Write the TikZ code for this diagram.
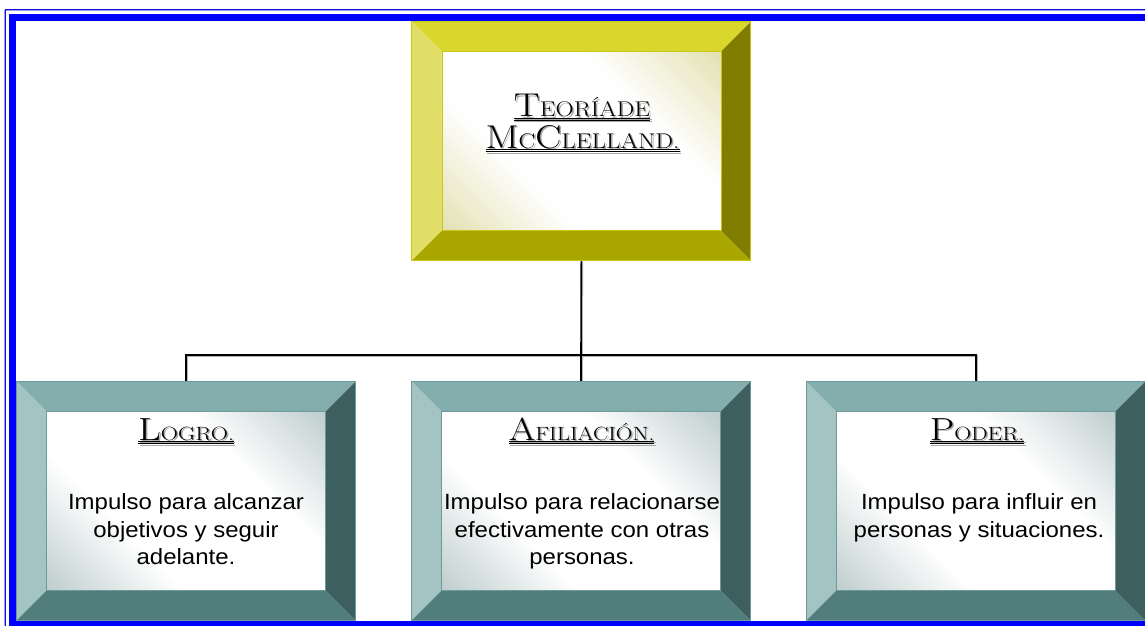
\documentclass[tikz,border=0pt]{standalone}
\usepackage{fontspec}
\usepackage{graphicx}
\usetikzlibrary{calc}
\newfontfamily\bodyfont[FakeStretch=1.09]{Liberation Sans}
\definecolor{ytop}{HTML}{D9D62E}
\definecolor{yleft}{HTML}{E1DE68}
\definecolor{yright}{HTML}{807D00}
\definecolor{ybot}{HTML}{A9A600}
\definecolor{ycorner}{HTML}{CFCC7C}
\definecolor{yedge}{HTML}{C9C51A}
\definecolor{ttop}{HTML}{84AEAE}
\definecolor{tleft}{HTML}{A4C4C4}
\definecolor{tright}{HTML}{3E5F5F}
\definecolor{tbot}{HTML}{527D7D}
\definecolor{tcorner}{HTML}{93ABAB}
\definecolor{tedge}{HTML}{6E9999}
\definecolor{framedark}{HTML}{1010D0}
\definecolor{framelight}{HTML}{9A9AFF}
\definecolor{frameblue}{HTML}{0000FF}
\pgfdeclareverticalshading{yshade}{100bp}{color(0bp)=(ycorner); color(36bp)=(white); color(64bp)=(white); color(100bp)=(ycorner)}
\pgfdeclareverticalshading{tshade}{100bp}{color(0bp)=(tcorner); color(36bp)=(white); color(64bp)=(white); color(100bp)=(tcorner)}
\newcommand\dul[1]{\vtop{\hbox{#1}\kern0.6pt\hrule height 1pt\kern1.2pt\hrule height 1pt}}
\newcommand\ttBig[1]{{\fontsize{33}{33}\selectfont #1}}
\newcommand\ttSmall[1]{{\fontsize{21.3}{21.3}\selectfont #1}}
\newcommand\stBig[1]{{\fontsize{32}{32}\selectfont #1}}
\newcommand\stSmall[1]{{\fontsize{19.2}{19.2}\selectfont #1}}
\newcommand\bevel[7]{%
  \coordinate (#1-a) at ($(#1.north west)+(30,30)$);
  \coordinate (#1-b) at ($(#1.north east)+(-30,30)$);
  \coordinate (#1-c) at ($(#1.south east)+(-30,-30)$);
  \coordinate (#1-d) at ($(#1.south west)+(30,-30)$);
  \fill[#2] (#1.north west) -- (#1.north east) -- (#1-b) -- (#1-a) -- cycle;
  \fill[#3] (#1.north west) -- (#1-a) -- (#1-d) -- (#1.south west) -- cycle;
  \fill[#4] (#1.north east) -- (#1.south east) -- (#1-c) -- (#1-b) -- cycle;
  \fill[#5] (#1.south west) -- (#1-d) -- (#1-c) -- (#1.south east) -- cycle;
  \shade[shading=#6,shading angle=-45] (#1-a) rectangle (#1-c);
  \draw[#7,line width=0.8pt] (#1.north west) rectangle (#1.south east);
  \draw[#7,line width=0.6pt] (#1-a) rectangle (#1-c);
}
\begin{document}
\begin{tikzpicture}[x=1pt,y=-1pt,
  box/.style={minimum width=339pt,minimum height=239pt,inner sep=0pt,outer sep=0pt},
  title/.style={inner sep=0pt,outer sep=0pt,anchor=base,text=black},
  titleshadow/.style={title,text=black!35},
  body/.style={inner sep=0pt,outer sep=0pt,anchor=north,align=center,text=black,font=\bodyfont\fontsize{22}{27.5}\selectfont},
  conn/.style={line width=1.6pt,draw=black},
  connshadow/.style={line width=1.6pt,draw=black!30}]
\useasboundingbox (0,0) rectangle (1145,626);
\fill[white] (0,0) rectangle (1145,626);
% frame
\draw[framelight,line width=1pt] (4.5,10.8) rectangle (1170,640);
\draw[framedark,line width=1pt] (5.5,9.5) rectangle (1170,640);
\draw[frameblue,line width=7pt] (12.5,17.2) rectangle (1170,624);
% boxes
\node[box] (teoria) at (581.3,141.2) {};
\node[box] (logro) at (186,501.2) {};
\node[box] (afil) at (581,501.2) {};
\node[box] (poder) at (975.7,501.2) {};
% connectors
\coordinate (bus) at (581,355);
\begin{scope}[transform canvas={shift={(1pt,-1pt)}}]
\draw[connshadow] (teoria.south) -- (bus);
\draw[connshadow] (logro.north) |- (bus) -| (poder.north);
\draw[connshadow] (afil.north) -- (bus);
\end{scope}
\draw[conn] (teoria.south) -- (bus);
\draw[conn] (logro.north) |- (bus) -| (poder.north);
\draw[conn] (afil.north) -- (bus);
% bevels
\bevel{teoria}{ytop}{yleft}{yright}{ybot}{yshade}{yedge}
\bevel{logro}{ttop}{tleft}{tright}{tbot}{tshade}{tedge}
\bevel{afil}{ttop}{tleft}{tright}{tbot}{tshade}{tedge}
\bevel{poder}{ttop}{tleft}{tright}{tbot}{tshade}{tedge}
% titles
\node[titleshadow] (t1s) at (583.5,118.2) {\scalebox{1.18}[1]{\dul{\ttBig{T}\ttSmall{EORÍADE}}}};
\node[title] (t1) at (582,116.7) {\scalebox{1.18}[1]{\dul{\ttBig{T}\ttSmall{EORÍADE}}}};
\node[titleshadow] (t2s) at (584,149.5) {\scalebox{1.18}[1]{\dul{\ttBig{M}\ttSmall{C}\ttBig{C}\ttSmall{LELLAND.}}}};
\node[title] (t2) at (582.5,148) {\scalebox{1.18}[1]{\dul{\ttBig{M}\ttSmall{C}\ttBig{C}\ttSmall{LELLAND.}}}};
\node[titleshadow] (s1s) at (187.5,441.5) {\scalebox{1.24}[1]{\dul{\stBig{L}\stSmall{OGRO.}}}};
\node[title] (s1) at (186,440) {\scalebox{1.24}[1]{\dul{\stBig{L}\stSmall{OGRO.}}}};
\node[titleshadow] (s2s) at (583,441.5) {\scalebox{1.2}[1]{\dul{\stBig{A}\stSmall{FILIACIÓN.}}}};
\node[title] (s2) at (581.5,440) {\scalebox{1.2}[1]{\dul{\stBig{A}\stSmall{FILIACIÓN.}}}};
\node[titleshadow] (s3s) at (978.5,441.5) {\scalebox{1.22}[1]{\dul{\stBig{P}\stSmall{ODER.}}}};
\node[title] (s3) at (977,440) {\scalebox{1.22}[1]{\dul{\stBig{P}\stSmall{ODER.}}}};
% body texts
\node[body] (b1) at (186,494) {Impulso para alcanzar\\objetivos y seguir\\adelante.};
\node[body] (b2) at (582,494) {Impulso para relacionarse\\efectivamente con otras\\personas.};
\node[body] (b3) at (979,494) {Impulso para influir en\\personas y situaciones.};
\end{tikzpicture}
\end{document}
